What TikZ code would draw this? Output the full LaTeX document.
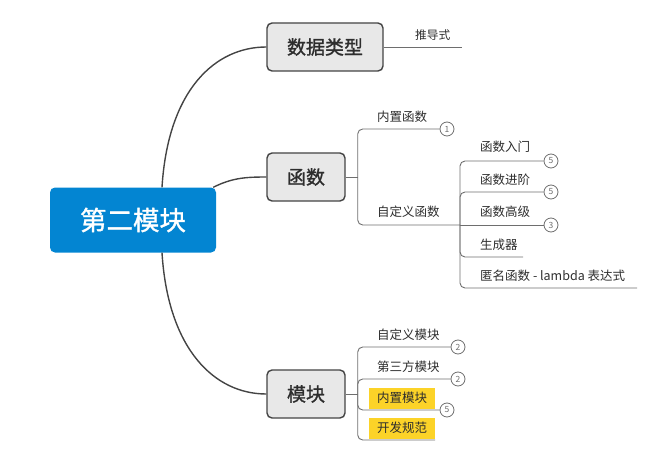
\documentclass[tikz,border=0pt]{standalone}
\usepackage{fontspec}
\setmainfont{Noto Sans CJK SC}
\newfontfamily\medfont[FakeBold=1.2]{Noto Sans CJK SC}
\definecolor{cblue}{RGB}{3,133,210}
\definecolor{nfill}{RGB}{232,232,232}
\definecolor{nline}{RGB}{68,68,68}
\definecolor{bline}{RGB}{110,110,110}
\definecolor{txt}{RGB}{45,45,45}
\definecolor{hl}{RGB}{252,211,40}
\begin{document}
\begin{tikzpicture}[x=1pt,y=-1pt,
  central/.style={fill=cblue, rounded corners=5pt, minimum width=166pt, minimum height=65pt, text=white, font=\medfont\fontsize{26.5}{30}\selectfont, inner sep=0pt},
  topic/.style={fill=nfill, draw=nline, line width=1.4pt, rounded corners=5pt, minimum height=48pt, text=txt, font=\medfont\fontsize{19}{22}\selectfont, inner sep=0pt},
  main/.style={draw=nline, line width=1.4pt},
  br/.style={draw=bline, line width=0.9pt, rounded corners=5pt},
  lbl/.style={anchor=west, inner sep=0pt, text=txt, font=\fontsize{12.5}{14}\selectfont},
  hlbl/.style={lbl, fill=hl, inner xsep=7pt, minimum height=21pt, minimum width=66pt, anchor=west},
  num/.style={circle, draw=bline, line width=0.8pt, fill=white, minimum size=14pt, inner sep=0pt, text=bline, font=\fontsize{8.5}{9}\selectfont}
]
\useasboundingbox (0,0) rectangle (665,460);

% main nodes
\node[central] (c) at (133,220) {第二模块};
\node[topic, minimum width=116pt] (t1) at (325,47) {数据类型};
\node[topic, minimum width=78pt] (t2) at (306,177) {函数};
\node[topic, minimum width=78pt] (t3) at (306,394) {模块};

% main curves
\draw[main] ([xshift=29pt]c.north) .. controls (168,90) and (215,47) .. (t1.west);
\draw[main] ([xshift=-3pt]c.north east) .. controls (232,178) and (245,177) .. (t2.west);
\draw[main] ([xshift=29pt]c.south) .. controls (168,350) and (215,394) .. (t3.west);

% --- 数据类型
\node[lbl, font=\fontsize{11.7}{13}\selectfont] (d1) at (415,35) {推导式};
\coordinate (d1e) at (462,47);
\draw[br] (t1.east) -- (d1e);

% --- 函数
\draw[br] (t2.east) -- ++(12,0) coordinate (fj);
\node[lbl] (f1) at (377,117) {内置函数};
\node[num] (n1) at (447,129) {1};
\draw[br] (fj) |- (n1.west);
\node[lbl] (f2) at (377,212) {自定义函数};
\coordinate (sj) at (460,225);
\draw[br] (fj) |- (sj);

\node[lbl] (g1) at (480,147) {函数入门};
\node[num] (m1) at (551,161) {5};
\node[lbl] (g2) at (480,180) {函数进阶};
\node[num] (m2) at (551,192) {5};
\node[lbl] (g3) at (480,212) {函数高级};
\node[num] (m3) at (551,225) {3};
\node[lbl] (g4) at (480,245) {生成器};
\coordinate (g4e) at (523,257);
\node[lbl] (g5) at (480,276) {匿名函数 - lambda 表达式};
\coordinate (g5e) at (637,288);

\draw[br] (sj) |- (m1.west);
\draw[br] (sj) |- (m2.west);
\draw[br] (sj) -- (m3.west);
\draw[br] (sj) |- (g4e);
\draw[br] (sj) |- (g5e);

% --- 模块
\draw[br] (t3.east) -- ++(12,0) coordinate (mj);
\node[lbl] (k1) at (377,335) {自定义模块};
\node[num] (p1) at (458,347) {2};
\node[lbl] (k2) at (377,367) {第三方模块};
\node[num] (p2) at (458,379) {2};
\node[hlbl] (k3) at (369,398) {内置模块};
\node[num] (p3) at (447,410) {5};
\node[hlbl] (k4) at (369,428) {开发规范};
\coordinate (k4e) at (435,440);

\draw[br] (mj) |- (p1.west);
\draw[br] (mj) |- (p2.west);
\draw[br] (mj) |- (p3.west);
\draw[br] (mj) |- (k4e);
\end{tikzpicture}
\end{document}
